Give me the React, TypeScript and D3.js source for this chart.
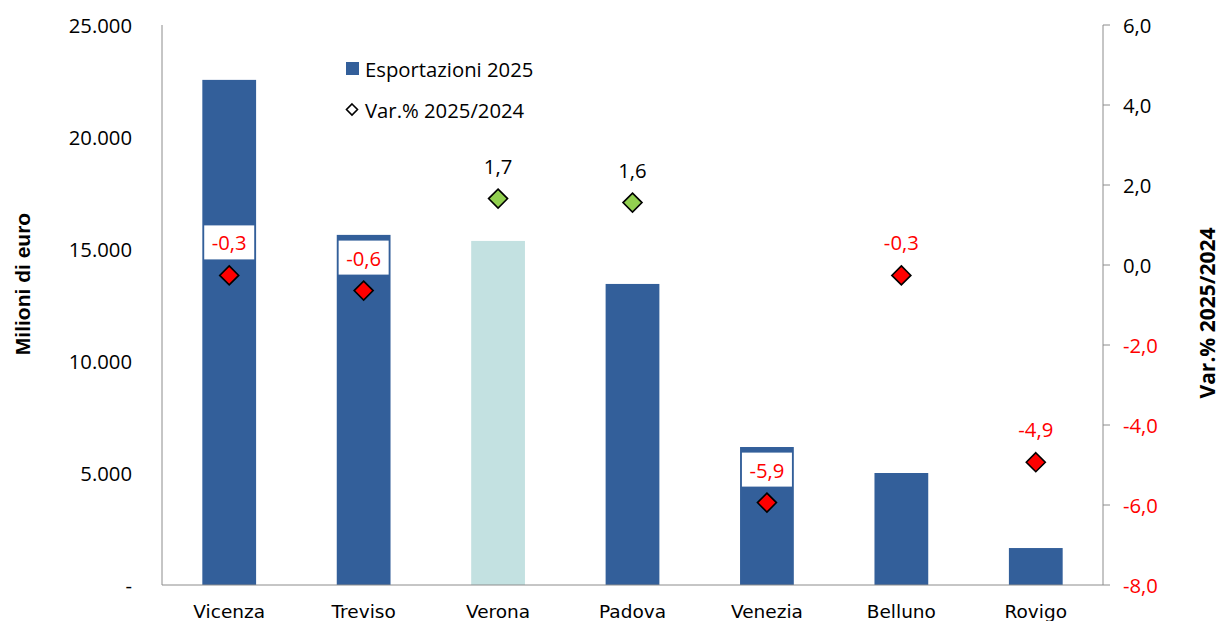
import React from "react";
import * as d3 from "d3";

const categories = ["Vicenza", "Treviso", "Verona", "Padova", "Venezia", "Belluno", "Rovigo"];
const exports2025 = [22550, 15630, 15360, 13440, 6160, 5000, 1650];
const varPct = [-0.26, -0.64, 1.66, 1.56, -5.94, -0.26, -4.93];
const leftTicks = [0, 5000, 10000, 15000, 20000, 25000];
const rightTicks = [-8, -6, -4, -2, 0, 2, 4, 6];
const highlighted = "Verona";
const legendLabels = ["Esportazioni 2025", "Var.% 2025/2024"];
const leftTitle = "Milioni di euro";
const rightTitle = "Var.% 2025/2024";

const W = 1220;
const H = 621;
const X0 = 162;
const X1 = 1103;
const Y0 = 25;
const Y1 = 585;

const locale = d3.formatLocale({
  decimal: ",",
  thousands: ".",
  grouping: [3],
  currency: ["", "€"],
  minus: "-",
});
const fmtThousands = locale.format(",.0f");
const fmtPct = locale.format(".1f");

const BLUE = "#335F9A";
const LIGHT = "#C3E1E1";
const AXIS = "#8C8C8C";
const RED = "#FF0000";
const GREEN = "#92D050";
const TICKFONT = "'Open Sans', Lato, sans-serif";
const CATFONT = "'DejaVu Sans', Verdana, sans-serif";
const FS = 20.3;

export default function App() {
  const x = d3.scaleBand<string>().domain(categories).range([X0, X1]).paddingInner(0.6).paddingOuter(0.3);
  const yL = d3.scaleLinear().domain([0, 25000]).range([Y1, Y0]);
  const yR = d3.scaleLinear().domain([-8, 6]).range([Y1, Y0]);
  const diamond = (cx: number, cy: number, r: number) =>
    `M${cx},${cy - r}L${cx + r},${cy}L${cx},${cy + r}L${cx - r},${cy}Z`;

  return (
    <svg width={W} height={H} style={{ position: "absolute", left: 0, top: 0, background: "#fff" }}>
      <rect x={0} y={0} width={W} height={H} fill="#fff" />
      {/* bars */}
      {categories.map((c, i) => (
        <rect
          key={c}
          x={x(c)}
          y={yL(exports2025[i])}
          width={x.bandwidth()}
          height={Y1 - yL(exports2025[i])}
          fill={c === highlighted ? LIGHT : BLUE}
        />
      ))}
      {/* axes */}
      <line x1={X0} y1={Y0} x2={X0} y2={Y1} stroke={AXIS} strokeWidth={1} />
      <line x1={X1} y1={Y0} x2={X1} y2={Y1} stroke={AXIS} strokeWidth={1} />
      <line x1={X0} y1={Y1} x2={X1} y2={Y1} stroke={AXIS} strokeWidth={1} />
      {leftTicks.map((t) => (
        <text
          key={"l" + t}
          x={132}
          y={yL(t)}
          textAnchor="end"
          dominantBaseline="central"
          fontFamily={TICKFONT}
          fontSize={FS}
          fill="#000"
        >
          {t === 0 ? "-" : fmtThousands(t)}
        </text>
      ))}
      {rightTicks.map((t) => (
        <g key={"r" + t}>
          <line x1={X1} x2={X1 + 7} y1={yR(t)} y2={yR(t)} stroke={AXIS} strokeWidth={1} />
          <text
            x={1123}
            y={yR(t)}
            textAnchor="start"
            dominantBaseline="central"
            fontFamily={TICKFONT}
            fontSize={FS}
            fill={t < 0 ? RED : "#000"}
          >
            {fmtPct(t)}
          </text>
        </g>
      ))}
      {categories.map((c) => (
        <text
          key={"c" + c}
          x={(x(c) as number) + x.bandwidth() / 2}
          y={611}
          textAnchor="middle"
          dominantBaseline="central"
          fontFamily={CATFONT}
          fontSize={18.5}
          fill="#000"
        >
          {c}
        </text>
      ))}
      {/* axis titles */}
      <text
        transform={`translate(22,284) rotate(-90)`}
        textAnchor="middle"
        dominantBaseline="central"
        fontFamily="'Liberation Sans', Arial, sans-serif"
        fontWeight="bold"
        fontSize={21}
        fill="#000"
      >
        {leftTitle}
      </text>
      <text
        transform={`translate(1207,313) rotate(-90)`}
        textAnchor="middle"
        dominantBaseline="central"
        fontFamily={TICKFONT}
        fontWeight="bold"
        fontSize={21}
        fill="#000"
      >
        {rightTitle}
      </text>
      {/* diamonds and labels */}
      {categories.map((c, i) => {
        const cx = (x(c) as number) + x.bandwidth() / 2;
        const cy = yR(varPct[i]);
        const neg = varPct[i] < 0;
        const labelY = cy - 33;
        const overBar = labelY > yL(exports2025[i]);
        return (
          <g key={"d" + c}>
            {overBar && <rect x={cx - 25} y={cy - 50} width={50} height={34} fill="#fff" />}
            <text
              x={cx}
              y={labelY}
              textAnchor="middle"
              dominantBaseline="central"
              fontFamily={TICKFONT}
              fontSize={FS}
              fill={neg ? RED : "#000"}
            >
              {fmtPct(varPct[i])}
            </text>
            <path d={diamond(cx, cy, 9.5)} fill={neg ? RED : GREEN} stroke="#000" strokeWidth={1.6} />
          </g>
        );
      })}
      {/* legend */}
      <rect x={346} y={62} width={13} height={13} fill={BLUE} />
      <text x={365} y={68.5} dominantBaseline="central" fontFamily={TICKFONT} fontSize={FS} fill="#000">
        {legendLabels[0]}
      </text>
      <path d={diamond(352, 109.5, 5.5)} fill="#fff" stroke="#000" strokeWidth={1.6} />
      <text x={365} y={109.5} dominantBaseline="central" fontFamily={TICKFONT} fontSize={FS} fill="#000">
        {legendLabels[1]}
      </text>
    </svg>
  );
}
